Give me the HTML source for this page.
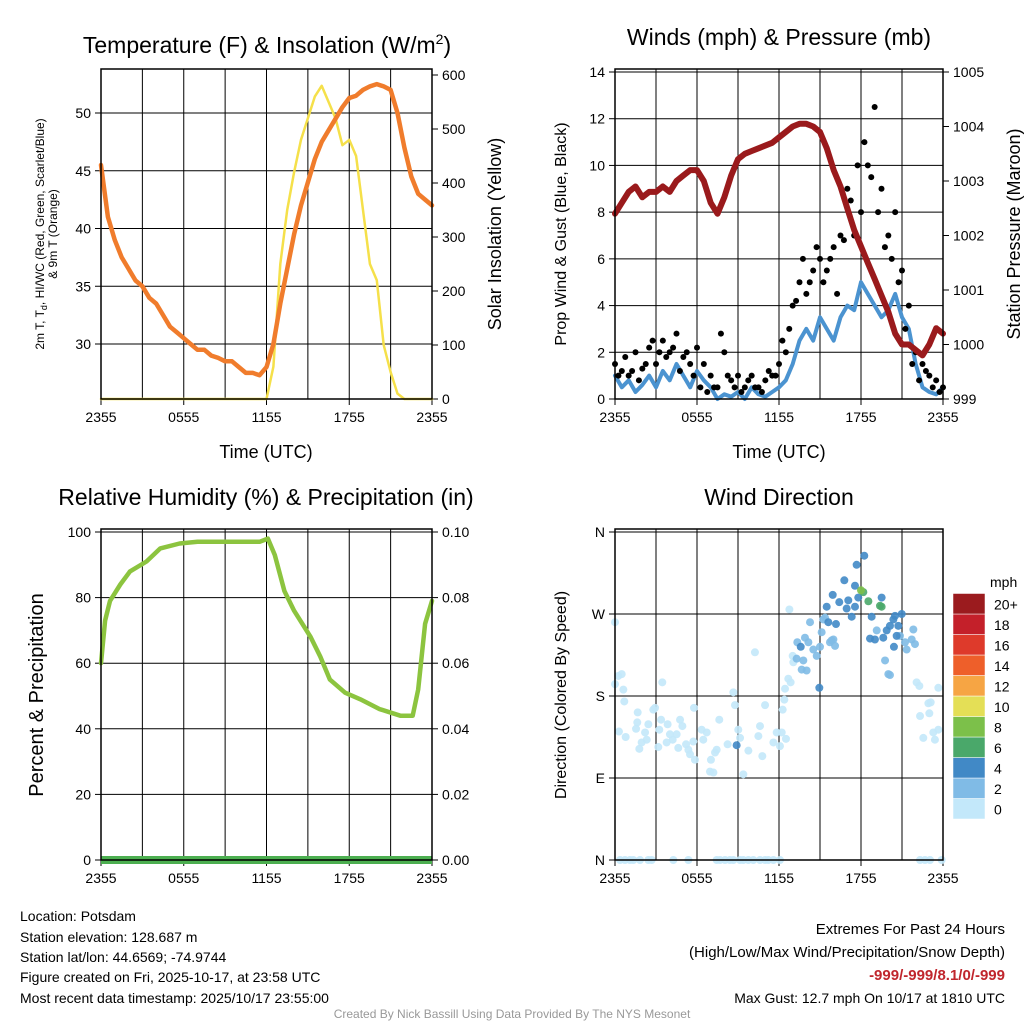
<!DOCTYPE html>
<html><head><meta charset="utf-8">
<style>
html,body{margin:0;padding:0;background:#fff;}
svg{display:block;font-family:"Liberation Sans",sans-serif;}
</style></head>
<body>
<svg id="chart" width="1024" height="1024" viewBox="0 0 1024 1024" xmlns="http://www.w3.org/2000/svg">
<text x="267" y="53" font-size="23" text-anchor="middle">Temperature (F) &amp; Insolation (W/m<tspan font-size="14" dy="-9">2</tspan><tspan dy="9">)</tspan></text>
<text x="779" y="45" font-size="23" text-anchor="middle">Winds (mph) &amp; Pressure (mb)</text>
<text x="266" y="505" font-size="23" text-anchor="middle">Relative Humidity (%) &amp; Precipitation (in)</text>
<text x="779" y="505" font-size="23" text-anchor="middle">Wind Direction</text>

<text x="266" y="458" font-size="18" text-anchor="middle">Time (UTC)</text>
<text x="779" y="458" font-size="18" text-anchor="middle">Time (UTC)</text>

<g transform="translate(44,234) rotate(-90)" font-size="12" text-anchor="middle">
<text x="0" y="0">2m T, T<tspan font-size="9" dy="3">d</tspan><tspan dy="-3">, HI/WC (Red, Green, Scarlet/Blue)</tspan></text>
<text x="0" y="13">&amp; 9m T (Orange)</text></g>
<text transform="translate(501,234) rotate(-90)" font-size="18" text-anchor="middle">Solar Insolation (Yellow)</text>
<text transform="translate(566,234) rotate(-90)" font-size="16" text-anchor="middle">Prop Wind &amp; Gust (Blue, Black)</text>
<text transform="translate(1020,234) rotate(-90)" font-size="18" text-anchor="middle">Station Pressure (Maroon)</text>
<text transform="translate(43,695) rotate(-90)" font-size="20" text-anchor="middle">Percent &amp; Precipitation</text>
<text transform="translate(566,695) rotate(-90)" font-size="16" text-anchor="middle">Direction (Colored By Speed)</text>

<g font-size="14">
<text x="20" y="921">Location: Potsdam</text>
<text x="20" y="942">Station elevation: 128.687 m</text>
<text x="20" y="962">Station lat/lon: 44.6569; -74.9744</text>
<text x="20" y="982">Figure created on Fri, 2025-10-17, at 23:58 UTC</text>
<text x="20" y="1003">Most recent data timestamp: 2025/10/17 23:55:00</text>
</g>
<g font-size="15" text-anchor="end">
<text x="1005" y="934">Extremes For Past 24 Hours</text>
<text x="1005" y="957">(High/Low/Max Wind/Precipitation/Snow Depth)</text>
<text x="1005" y="980" fill="#c0262d" font-weight="bold">-999/-999/8.1/0/-999</text>
<text x="1005" y="1003" font-size="14">Max Gust: 12.7 mph On 10/17 at 1810 UTC</text>
</g>
<text x="512" y="1018" font-size="12" fill="#999" text-anchor="middle">Created By Nick Bassill Using Data Provided By The NYS Mesonet</text>
<g id="layer"></g>
</svg>
<script>
// ---- data ----
const hoursHalf = [0,0.5,1,1.5,2,2.5,3,3.5,4,4.5,5,5.5,6,6.5,7,7.5,8,8.5,9,9.5,10,10.5,11,11.5,12,12.5,13,13.5,14,14.5,15,15.5,16,16.5,17,17.5,18,18.5,19,19.5,20,20.5,21,21.5,22,22.5,23,23.5,24];
const temp9m = [45.5,41,39,37.5,36.5,35.5,35,34,33.5,32.5,31.5,31,30.5,30,29.5,29.5,29,28.8,28.5,28.5,28,27.5,27.5,27.3,28,30,33.5,36.5,39.5,42,44,46,47.5,48.5,49.5,50.5,51.3,51.5,52,52.3,52.5,52.3,52,50,47,44.5,43,42.5,42];
const solar = [0,0,0,0,0,0,0,0,0,0,0,0,0,0,0,0,0,0,0,0,0,0,0,0,0,60,250,350,420,480,520,560,580,550,520,470,480,450,350,250,220,100,50,10,0,0,0,0,0];
const windSpd = [1,0.5,0.8,0.3,0.6,1,0.5,1.2,0.8,1.5,1,0.5,1.2,0.8,0.5,0,0.2,0.1,0.3,0,0.5,0.2,0.1,0.3,0.5,0.8,1.5,2.5,3,2.5,3.5,3,2.5,3.5,4,3.8,5,4.5,4,3.5,3.8,4.5,3.5,3,1.5,0.5,0.3,0.2,0.5];
const windGust = [1.5,1.2,1,2,1.3,2.2,1.5,2.5,2,2.8,1.8,1.5,2.2,1.5,1,0.5,2,0.8,1,0.5,1,0.5,0.8,1,1.5,2,4,5,4.5,5.5,6,5.5,6.5,7,9,7,8,10,12.5,9,7,8,5.5,4,2,1.5,1,0.8,0.5];
const gustQuarterHours = [0.25,0.75,1.25,1.75,2.25,2.75,3.25,3.75,4.25,4.75,5.25,5.75,6.25,6.75,7.25,7.75,8.25,8.75,9.25,9.75,10.25,10.75,11.25,11.75,12.25,12.75,13.25,13.75,14.25,14.75,15.25,15.75,16.25,16.75,17.25,17.75,18.25,18.75,19.25,19.75,20.25,20.75,21.25,21.75,22.25,22.75,23.25,23.75];
const gustQuarter = [1,1.8,1.2,0.8,1.5,2.5,2,1.8,2.2,1.2,2,1,0.5,0.3,0.5,2.8,1,0.5,0.3,0.8,0.5,0.3,1.2,1,2.5,3,4.2,6,5,6.5,5,6,4.5,6.8,8.5,10,11,9.5,8,6.5,6,5,3,1.5,0.8,1.2,0.5,0.3];
const pressure = [1002.4,1002.6,1002.8,1002.9,1002.7,1002.8,1002.8,1002.9,1002.8,1003.0,1003.1,1003.2,1003.2,1003.0,1002.6,1002.4,1002.7,1003.1,1003.4,1003.5,1003.55,1003.6,1003.65,1003.7,1003.8,1003.9,1004.0,1004.05,1004.05,1004.0,1003.9,1003.6,1003.2,1002.9,1002.5,1002.1,1001.8,1001.5,1001.2,1000.9,1000.6,1000.2,1000.0,1000.0,999.9,999.8,1000.0,1000.3,1000.2];
const rhHours = [0,0.3,0.65,1.4,2.1,3.3,4.3,5.7,7,8.5,10,11.5,12.1,12.6,13.3,14,15.2,15.9,16.6,17.7,18.8,20.2,21.7,22.6,23,23.5,24];
const rhValues = [60,73,79,84,88,91,95,96.5,97,97,97,97,98,93,82,76,68,62,55,51,49,46,44,44,52,72,79];
const precip = [0,0,0,0,0,0,0,0,0,0,0,0,0,0,0,0,0,0,0,0,0,0,0,0,0,0,0,0,0,0,0,0,0,0,0,0,0,0,0,0,0,0,0,0,0,0,0,0,0];
const dirSpeedClass = [1, 3, 5, 7, 8.1];
const dirPts0 = [[0,261],[0,193],[0.24,202],[0.49,204],[0.61,187],[0.68,174],[0.29,141],[0.78,135],[1.66,162],[1.54,144],[1.63,151],[1.78,122],[1.95,129],[2.2,140],[2.44,149],[2.32,132],[2.8,165],[2.93,167],[3.37,154],[3.46,195],[3.24,143],[3.17,124],[3.85,149],[3.78,129],[4.02,138],[4.22,132],[4.51,138],[4.63,123],[4.76,154],[4.93,147],[5.2,127],[5.37,121],[5.49,116],[5.73,130],[5.85,110],[5.78,167],[6.34,143],[6.46,132],[6.71,140],[6.95,97],[7.2,96],[7.02,110],[7.32,118],[7.44,121],[7.63,154],[8.24,127],[8.66,184],[8.78,170],[9.02,143],[9.15,134],[9.39,94],[9.76,120],[10.24,228],[10.61,147],[10.49,136],[10.78,114],[10.98,170],[11.59,129],[11.83,140],[12.07,125],[12.2,140],[12.51,133],[12.27,165],[12.39,176],[12.44,188],[12.68,199],[12.85,195],[13.05,217],[13,224],[12.76,275],[22.07,195],[22.27,191],[22.93,172],[23.1,173],[22.32,158],[23,161],[23.66,189],[23.29,140],[23.66,143],[23.41,132],[22.56,134],[0.37,0],[0.73,0],[1.1,0],[1.34,0],[1.83,0],[2.44,0],[2.68,0],[4.27,0],[5.37,0],[7.44,0],[7.68,0],[8.05,0],[8.41,0],[8.66,0],[9.15,0],[9.39,0],[9.76,0],[10.12,0],[10.61,0],[10.98,0],[11.22,0],[11.59,0],[12.07,0],[22.32,0],[22.68,0],[23.05,0],[23.9,0]];
const dirPts1 = [[13.29,221],[13.34,239],[13.66,209],[13.78,219],[14.02,208],[13.9,244],[14.27,261],[14.15,239],[14.51,231],[14.76,224],[15,234],[15.12,250],[15.24,264],[15.37,266],[15.73,239],[15.98,242],[16.1,235],[15.85,241],[19.15,252],[20.85,246],[21.22,239],[21.34,231],[21.71,242],[21.83,253],[21.95,237],[19.76,219],[20,204],[20.12,203]];
const dirPts2 = [[13.59,234],[14.95,189],[8.9,126],[15.61,261],[16.17,259],[15.49,278],[15.93,291],[16.41,283],[16.78,307],[16.95,276],[17.07,285],[17.32,267],[17.56,301],[17.68,324],[18.24,334],[17.8,288],[17.56,278],[18.78,267],[18.66,243],[19.02,242],[19.51,288],[19.63,244],[19.88,252],[20.12,257],[20.37,264],[20.49,268],[20.61,246],[20.73,257],[20.98,270],[20.41,234]];
const dirPts3 = [[18.54,284],[19.39,279],[19.51,278],[18.17,294]];
const dirPts4 = [[18,296]];
const xTickLabels = ["2355","0555","1155","1755","2355"];
const tempTicks = [30,35,40,45,50];
const solarTicks = [0,100,200,300,400,500,600];
const windTicks = [0,2,4,6,8,10,12,14];
const presTicks = [999,1000,1001,1002,1003,1004,1005];
const rhTicks = [0,20,40,60,80,100];
const precipTicks = ["0.00","0.02","0.04","0.06","0.08","0.10"];
const dirTicks = ["N","E","S","W","N"];
const cbLabels = ["0","2","4","6","8","10","12","14","16","18","20+"];
const cbColors = ["#c3e8fa","#80bbe6","#4189c6","#4aa86a","#7cc04a","#e4df56","#f6a544","#ee5f2a","#de3a2b","#c4202a","#9b1b1e"];

// ---- drawing ----
const NS="http://www.w3.org/2000/svg";
const layer=document.getElementById('layer');
function mk(tag,attrs,parent){const e=document.createElementNS(NS,tag);for(const k in attrs)e.setAttribute(k,attrs[k]);(parent||layer).appendChild(e);return e;}
function lin(d0,d1,r0,r1){return v=>r0+(v-d0)/(d1-d0)*(r1-r0);}

const P1={x0:101,x1:432,y0:69,y1:399}, P2={x0:615,x1:943,y0:69,y1:399};
const P3={x0:101,x1:432,y0:529,y1:860}, P4={x0:615,x1:943,y0:529,y1:860};

function frame(P,name){
  const g=mk('g',{});
  
  
  const xs=lin(0,24,P.x0,P.x1);
  for(let h=3;h<24;h+=3){mk('line',{x1:xs(h),x2:xs(h),y1:P.y0,y2:P.y1,stroke:'#000','stroke-width':1},g);}
  for(let i=0;i<5;i++){const x=xs(i*6);
    mk('line',{x1:x,x2:x,y1:P.y1,y2:P.y1+6,stroke:'#000'},g);
    const t=mk('text',{x:x,y:P.y1+23,'font-size':14,'text-anchor':'middle'},g);t.textContent=xTickLabels[i];}
  return xs;
}
function border(P,name){
  const r=mk('rect',{x:P.x0,y:P.y0,width:P.x1-P.x0,height:P.y1-P.y0,fill:'none',stroke:'#000','stroke-width':1.5});
  
  
}
function yAxis(P,ticks,labels,scale,side,grid,name){
  const g=mk('g',{});
  
  
  ticks.forEach((v,i)=>{const y=scale(v);
    if(grid)mk('line',{x1:P.x0,x2:P.x1,y1:y,y2:y,stroke:'#000'},g);
    const x=side==='l'?P.x0:P.x1;
    mk('line',{x1:x,x2:side==='l'?x-6:x+6,y1:y,y2:y,stroke:'#000'},g);
    const t=mk('text',{x:side==='l'?x-10:x+10,y:y+5,'font-size':14,'text-anchor':side==='l'?'end':'start'},g);
    t.textContent=labels[i];});
}
function path(xs,ys,xv,yv,attrs,name){
  let d='';xv.forEach((h,i)=>{d+=(i?'L':'M')+xs(h).toFixed(1)+','+ys(yv[i]).toFixed(1);});
  const p=mk('path',Object.assign({d:d,fill:'none','stroke-linejoin':'round','stroke-linecap':'round'},attrs));
  
  
  return p;
}

// Panel 1
let xs=frame(P1,'temp');
const yT=lin(30,50,344,113), yS=lin(0,600,399,75);
yAxis(P1,tempTicks,tempTicks.map(String),yT,'l',true,'temp-y-axis');
yAxis(P1,solarTicks,solarTicks.map(String),yS,'r',false,'solar-y-axis');
path(xs,yS,hoursHalf,solar,{stroke:'#f5e04a','stroke-width':2.5},'solar-line');
path(xs,yT,hoursHalf,temp9m,{stroke:'#f07c2c','stroke-width':4.5},'temp-9m-line');
border(P1,'temp');

// Panel 2
xs=frame(P2,'wind');
const yW=lin(0,14,399,72), yP=lin(999,1005,399,72);
yAxis(P2,windTicks,windTicks.map(String),yW,'l',true,'wind-y-axis');
yAxis(P2,presTicks,presTicks.map(String),yP,'r',false,'pressure-y-axis');
path(xs,yW,hoursHalf,windSpd,{stroke:'#4b93d0','stroke-width':4},'wind-speed-line');
windGust.forEach((v,i)=>{const c=mk('circle',{cx:xs(hoursHalf[i]),cy:yW(v),r:3,fill:'#000'});
  
  });
gustQuarter.forEach((v,i)=>{const c=mk('circle',{cx:xs(gustQuarterHours[i]),cy:yW(v),r:3,fill:'#000'});
  
  });
path(xs,yP,hoursHalf,pressure,{stroke:'#9a1a1c','stroke-width':6},'pressure-line');
border(P2,'wind');

// Panel 3
xs=frame(P3,'rh');
const yR=lin(0,100,860,532), yPr=lin(0,0.1,860,532);
yAxis(P3,rhTicks,rhTicks.map(String),yR,'l',true,'rh-y-axis');
yAxis(P3,precipTicks.map(Number),precipTicks,yPr,'r',false,'precip-y-axis');
path(xs,yPr,hoursHalf,precip,{stroke:'#4caf50','stroke-width':8,'stroke-linecap':'butt'},'precip-line');
path(xs,yR,rhHours,rhValues,{stroke:'#8cc43f','stroke-width':4.5},'rh-line');
border(P3,'rh');

// Panel 4
xs=frame(P4,'dir');
const yD=lin(0,360,860,532);
yAxis(P4,[0,90,180,270,360],dirTicks,yD,'l',true,'dir-y-axis');
function spColor(s){return cbColors[Math.min(10,Math.floor(s/2))];}
[dirPts0,dirPts1,dirPts2,dirPts3,dirPts4].forEach((arr,k)=>{
  arr.forEach(p=>{const c=mk('circle',{cx:xs(p[0]),cy:yD(p[1]),r:4,fill:spColor(dirSpeedClass[k]),'fill-opacity':0.9});
    
    });
});
border(P4,'dir');

// colorbar
const cb=mk('g',{});


const cbt=mk('text',{x:990,y:587,'font-size':14},cb);cbt.textContent='mph';
cbColors.forEach((c,i)=>{const y=819-(i+1)*20.5;
  mk('rect',{x:953,y:y,width:32,height:20.5,fill:c,stroke:'#fff','stroke-width':0.5},cb);
  const t=mk('text',{x:994,y:y+16,'font-size':14},cb);t.textContent=cbLabels[i];});
</script>
</body></html>
